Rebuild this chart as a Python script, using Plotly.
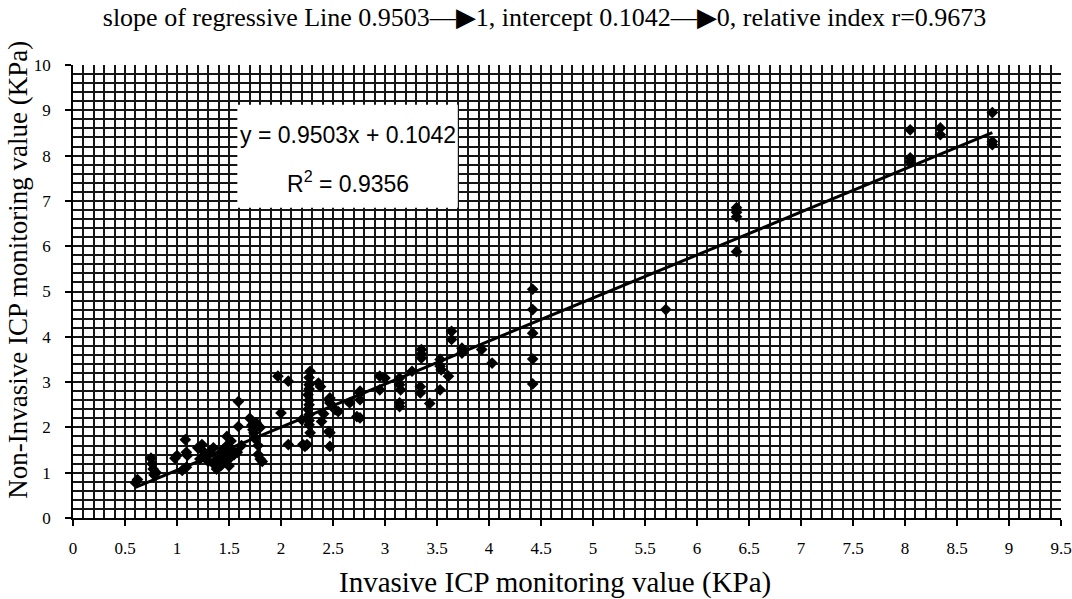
import plotly.graph_objects as go

# ---- data ----
invasive = [
    0.60, 0.62, 0.75, 0.76, 0.77, 0.78, 0.80,
    0.98, 1.00, 1.08, 1.09, 1.10, 1.09, 1.05,
    1.20, 1.24, 1.25, 1.22, 1.28, 1.30, 1.32, 1.35, 1.35, 1.38, 1.38, 1.40, 1.42,
    1.44, 1.45, 1.46, 1.48, 1.48, 1.48, 1.50, 1.50, 1.52, 1.53, 1.55, 1.58,
    1.59, 1.59, 1.62,
    1.70, 1.72, 1.73, 1.74, 1.75, 1.76, 1.78, 1.78, 1.80, 1.82, 1.80,
    1.97, 2.00, 2.07, 2.07,
    2.20, 2.21, 2.23,
    2.28, 2.27, 2.27, 2.27, 2.26, 2.27, 2.27, 2.26, 2.27, 2.27, 2.27, 2.28, 2.25,
    2.36, 2.38, 2.39, 2.41, 2.46, 2.47, 2.47, 2.46, 2.47, 2.47, 2.52, 2.55,
    2.66, 2.73, 2.76, 2.76, 2.76, 2.76,
    2.95, 3.00, 2.95, 3.14, 3.14, 3.15, 3.14, 3.14, 3.26, 3.34, 3.34,
    3.35, 3.35, 3.35, 3.43, 3.53, 3.53, 3.54, 3.53, 3.61, 3.64, 3.64,
    3.74, 3.74, 3.93, 4.03,
    4.42, 4.42, 4.42, 4.42, 4.42,
    5.70,
    6.38, 6.38, 6.38, 6.38,
    8.05, 8.05, 8.05, 8.34, 8.34, 8.84, 8.84, 8.84,
]
non_invasive = [
    0.78, 0.85, 1.32, 1.20, 1.08, 0.95, 1.00,
    1.32, 1.38, 1.73, 1.45, 1.38, 1.12, 1.05,
    1.55, 1.62, 1.48, 1.30, 1.35, 1.25, 1.45, 1.55, 1.20, 1.08, 1.30, 1.40, 1.15,
    1.50, 1.25, 1.35, 1.80, 1.60, 1.45, 1.30, 1.15, 1.70, 1.50, 1.40, 1.45,
    2.57, 2.02, 1.60,
    2.20, 2.05, 1.95, 1.88, 1.75, 2.10, 1.60, 1.40, 1.30, 1.25, 2.00,
    3.13, 2.32, 3.02, 1.62,
    2.17, 1.62, 1.58,
    3.24, 3.10, 2.94, 2.85, 2.72, 2.60, 2.50, 2.40, 2.28, 2.15, 2.06, 1.88, 1.62,
    2.98, 2.90, 2.13, 2.30, 2.61, 2.65, 2.54, 1.91, 1.88, 1.58, 2.39, 2.35,
    2.54, 2.24, 2.80, 2.76, 2.61, 2.21,
    3.13, 3.09, 2.83, 3.09, 2.94, 2.83, 2.54, 2.46, 3.24, 2.90, 2.76,
    3.72, 3.62, 3.53, 2.53, 3.50, 3.35, 3.27, 2.83, 3.13, 4.12, 3.94,
    3.75, 3.64, 3.72, 3.42,
    5.05, 4.60, 4.08, 3.51, 2.96,
    4.60,
    6.85, 6.75, 6.65, 5.88,
    8.57, 7.95, 7.86, 8.61, 8.46, 8.95, 8.31, 8.24,
]

slope = 0.9503
intercept = 0.1042
r_squared = 0.9356
r_index = 0.9673

x_ticks = [0, 0.5, 1, 1.5, 2, 2.5, 3, 3.5, 4, 4.5, 5, 5.5, 6, 6.5, 7, 7.5, 8, 8.5, 9, 9.5]
x_tick_labels = ["0", "0.5", "1", "1.5", "2", "2.5", "3", "3.5", "4", "4.5", "5",
                 "5.5", "6", "6.5", "7", "7.5", "8", "8.5", "9", "9.5"]
y_ticks = list(range(0, 11))

title_text = ("slope of regressive Line 0.9503\u2014\u25B61, intercept 0.1042\u2014\u25B60, "
              "relative index r=0.9673")
x_title = "Invasive ICP monitoring value (KPa)"
y_title = "Non-Invasive ICP monitoring value (KPa)"

# trend line through the data's x extent
line_x = [min(invasive), max(invasive)]
line_y = [slope * v + intercept for v in line_x]

SERIF = "Liberation Serif, Times New Roman, serif"
SANS = "Liberation Sans, Arial, sans-serif"

fig = go.Figure()
fig.add_trace(go.Scatter(
    x=invasive, y=non_invasive, mode="markers",
    marker=dict(symbol="diamond", size=9, color="black"),
    showlegend=False, hoverinfo="x+y",
))
fig.add_trace(go.Scatter(
    x=line_x, y=line_y, mode="lines",
    line=dict(color="black", width=3),
    showlegend=False, hoverinfo="skip",
))

# white box behind the equation
fig.add_shape(type="rect", xref="x", yref="y",
              x0=1.58, x1=3.70, y0=6.85, y1=9.12,
              fillcolor="white", line=dict(width=0), layer="above")
fig.add_annotation(xref="x", yref="y", x=2.64, y=8.46,
                   text=f"y = {slope}x + {intercept}", showarrow=False,
                   font=dict(family=SANS, size=23, color="black"))
fig.add_annotation(xref="x", yref="y", x=2.64, y=7.42,
                   text=f"R<sup>2</sup> = {r_squared}", showarrow=False,
                   font=dict(family=SANS, size=23, color="black"))

# axis titles (placed as in the reference)
fig.add_annotation(xref="paper", yref="paper", x=0.488, y=-0.143,
                   text=x_title, showarrow=False, xanchor="center", yanchor="middle",
                   font=dict(family=SERIF, size=29, color="black"))
fig.add_annotation(xref="paper", yref="paper", x=-0.0557, y=0.548,
                   text=y_title, showarrow=False, textangle=-90,
                   xanchor="center", yanchor="middle",
                   font=dict(family=SERIF, size=27, color="black"))

grid_col = "#151515"
fig.update_layout(
    width=1072, height=599,
    margin=dict(l=73, r=11, t=65, b=81),
    paper_bgcolor="white", plot_bgcolor="white",
    title=dict(text=title_text, x=0.508, xanchor="center", y=1 - 17 / 599,
               yanchor="middle", font=dict(family=SERIF, size=26, color="black")),
    xaxis=dict(
        range=[0, 9.5], tickvals=x_ticks, ticktext=x_tick_labels,
        showgrid=True, gridcolor=grid_col, gridwidth=1.5,
        minor=dict(dtick=0.1, showgrid=True, gridcolor=grid_col, gridwidth=1.5),
        showline=True, linecolor="black", linewidth=1.5,
        ticks="outside", ticklen=6, tickcolor="black", tickwidth=1.5,
        ticklabelstandoff=8,
        tickfont=dict(family=SERIF, size=17, color="black"),
        zeroline=False, fixedrange=True, automargin=False,
    ),
    yaxis=dict(
        range=[0, 10], tickvals=y_ticks,
        showgrid=True, gridcolor=grid_col, gridwidth=1.5,
        minor=dict(dtick=0.2, showgrid=True, gridcolor=grid_col, gridwidth=1.5),
        showline=True, linecolor="black", linewidth=1.5,
        ticks="outside", ticklen=6, tickcolor="black", tickwidth=1.5,
        ticklabelstandoff=11,
        tickfont=dict(family=SERIF, size=17, color="black"),
        zeroline=False, fixedrange=True, automargin=False,
    ),
)

fig.write_html("out.html", config={"displayModeBar": False},
               post_script="document.body.style.margin='0';document.body.style.padding='0';")
